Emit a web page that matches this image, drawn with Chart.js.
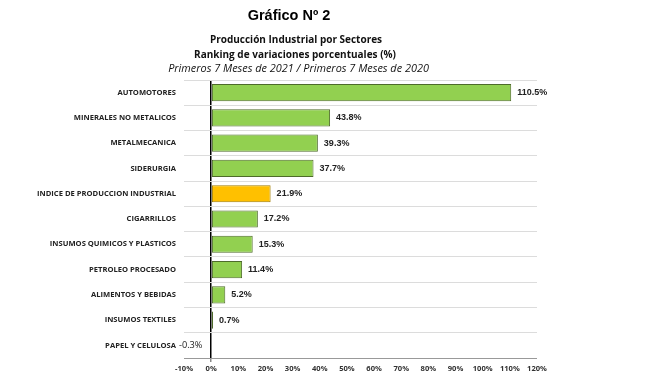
<!DOCTYPE html>
<html>
<head>
<meta charset="utf-8">
<script src="https://cdn.jsdelivr.net/npm/chart.js@4/dist/chart.umd.min.js"></script>
<style>
html,body{margin:0;padding:0;background:#fff;}
#wrap{width:645px;height:382px;position:relative;}
</style>
</head>
<body>
<div id="wrap"><canvas id="c" width="645" height="382"></canvas></div>
<script>
const categories = [
  "AUTOMOTORES",
  "MINERALES NO METALICOS",
  "METALMECANICA",
  "SIDERURGIA",
  "INDICE DE PRODUCCION INDUSTRIAL",
  "CIGARRILLOS",
  "INSUMOS QUIMICOS Y PLASTICOS",
  "PETROLEO PROCESADO",
  "ALIMENTOS Y BEBIDAS",
  "INSUMOS TEXTILES",
  "PAPEL Y CELULOSA"
];
const values = [110.5, 43.8, 39.3, 37.7, 21.9, 17.2, 15.3, 11.4, 5.2, 0.7, -0.3];
const highlight = "INDICE DE PRODUCCION INDUSTRIAL";
const titleLines = [
  "Gráfico Nº 2",
  "Producción Industrial por Sectores",
  "Ranking de variaciones porcentuales (%)",
  "Primeros 7 Meses de 2021 / Primeros 7 Meses de 2020"
];
const xMin = -10, xMax = 120, xStep = 10;

const fill = categories.map(c => c === highlight ? '#FFC000' : '#92D050');
const border = categories.map(c => c === highlight ? '#A07C00' : '#4E6B2A');

const titlePlugin = {
  id: 'titles',
  afterDraw(chart) {
    const ctx = chart.ctx;
    ctx.save();
    ctx.fillStyle = '#000';
    ctx.textAlign = 'center';
    ctx.textBaseline = 'middle';
    ctx.font = 'bold 14.5px "Liberation Sans", Arial, sans-serif';
    ctx.fillText(titleLines[0], 289, 16);
    ctx.fillStyle = '#111';
    ctx.font = 'bold 10px "Open Sans", sans-serif';
    ctx.fillText(titleLines[1], 296, 40);
    ctx.fillText(titleLines[2], 295, 55);
    ctx.font = 'italic 10.9px "Open Sans", sans-serif';
    ctx.fillText(titleLines[3], 298.5, 69);
    ctx.restore();
  }
};

const labelPlugin = {
  id: 'vlabels',
  afterDatasetsDraw(chart) {
    const ctx = chart.ctx;
    const meta = chart.getDatasetMeta(0);
    ctx.save();
    ctx.textBaseline = 'middle';
    ctx.fillStyle = '#222';
    meta.data.forEach((bar, i) => {
      const v = values[i];
      const txt = v.toFixed(1) + '%';
      if (v >= 0) {
        ctx.font = 'bold 9px "Liberation Sans", Arial, sans-serif';
        ctx.textAlign = 'left';
        ctx.fillText(txt, bar.x + 6, bar.y);
      } else {
        ctx.font = '9.2px "Open Sans", sans-serif';
        ctx.textAlign = 'right';
        ctx.fillText(txt, bar.base - 8, bar.y);
      }
    });
    ctx.restore();
  }
};

new Chart(document.getElementById('c'), {
  type: 'bar',
  data: {
    labels: categories,
    datasets: [{
      data: values,
      backgroundColor: fill,
      borderColor: border,
      borderWidth: 1,
      borderSkipped: false,
      barPercentage: 0.68,
      categoryPercentage: 1
    }]
  },
  options: {
    indexAxis: 'y',
    responsive: false,
    animation: false,
    layout: { padding: { left: 0, right: 108, top: 80, bottom: 0 } },
    plugins: { legend: { display: false }, tooltip: { enabled: false } },
    scales: {
      x: {
        min: xMin, max: xMax,
        afterFit(s) { s.height = 24; },
        ticks: {
          stepSize: xStep,
          callback: v => v + '%',
          color: '#333',
          font: { family: '"Open Sans", sans-serif', size: 7.6, weight: 'bold' },
          padding: 2,
          maxRotation: 0
        },
        grid: {
          color: c => (c.tick && c.tick.value === 0) ? '#000' : 'rgba(0,0,0,0)',
          lineWidth: c => (c.tick && c.tick.value === 0) ? 1.5 : 0,
          tickColor: '#888',
          tickLength: 4,
          drawTicks: true
        },
        border: { display: true, color: '#999', width: 1 }
      },
      y: {
        afterFit(s) { s.width = 184; },
        ticks: {
          color: '#222',
          font: { family: '"Open Sans", sans-serif', size: 7.6, weight: 'bold' },
          padding: 8
        },
        grid: {
          offset: true,
          color: '#dcdcdc',
          lineWidth: 1,
          drawTicks: false
        },
        border: { display: false }
      }
    }
  },
  plugins: [titlePlugin, labelPlugin]
});
</script>
</body>
</html>
